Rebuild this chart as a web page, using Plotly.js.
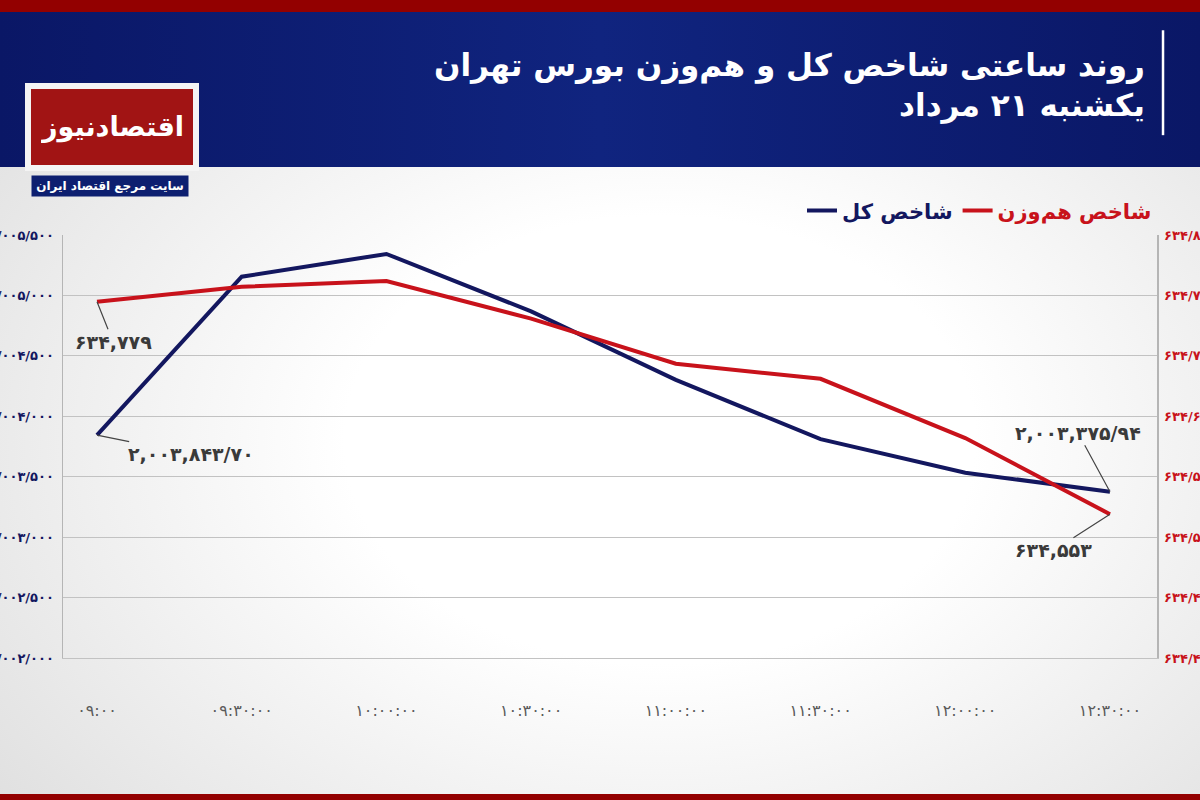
<!DOCTYPE html>
<html>
<head>
<meta charset="utf-8">
<script src="https://cdn.plot.ly/plotly-3.0.1.min.js"></script>
<style>
  html, body { margin: 0; padding: 0; }
  body {
    width: 1200px; height: 800px; overflow: hidden;
    background:
      linear-gradient(#930000, #930000) 0 0 / 100% 12px no-repeat,
      linear-gradient(90deg, #0a1766 0%, #10247f 50%, #0a1766 100%) 0 12px / 100% 155px no-repeat,
      linear-gradient(#930000, #930000) 0 794px / 100% 6px no-repeat,
      radial-gradient(ellipse 75% 80% at 55% 55%, #ffffff 35%, #dcdcdc 100%);
  }
  #chart { width: 1200px; height: 800px; }
</style>
</head>
<body>
<div id="chart"></div>
<script>
// ---- data ----
const times = ['۰۹:۰۰', '۰۹:۳۰:۰۰', '۱۰:۰۰:۰۰', '۱۰:۳۰:۰۰', '۱۱:۰۰:۰۰', '۱۱:۳۰:۰۰', '۱۲:۰۰:۰۰', '۱۲:۳۰:۰۰'];
const totalIndex = [2003843.70, 2005155, 2005343, 2004868, 2004301, 2003811, 2003533, 2003375.94];
const equalWeightIndex = [634779, 634795, 634801, 634761, 634713, 634697, 634634, 634553];

const leftTickVals = [2002000, 2002500, 2003000, 2003500, 2004000, 2004500, 2005000, 2005500];
const leftTickText = ['۲/۰۰۲/۰۰۰', '۲/۰۰۲/۵۰۰', '۲/۰۰۳/۰۰۰', '۲/۰۰۳/۵۰۰', '۲/۰۰۴/۰۰۰', '۲/۰۰۴/۵۰۰', '۲/۰۰۵/۰۰۰', '۲/۰۰۵/۵۰۰'];
const rightRange = [634400, 634850];
const rightTickText = ['۶۳۴/۴۰۰', '۶۳۴/۴۶۴', '۶۳۴/۵۲۹', '۶۳۴/۵۹۳', '۶۳۴/۶۵۷', '۶۳۴/۷۲۱', '۶۳۴/۷۸۶', '۶۳۴/۸۵۰'];

const seriesNames = ['شاخص کل', 'شاخص هم‌وزن'];
const titleLines = ['روند ساعتی شاخص کل و هم‌وزن بورس تهران', 'یکشنبه ۲۱ مرداد'];
const brandName = 'اقتصادنیوز';
const brandTagline = 'سایت مرجع اقتصاد ایران';

// ---- helpers ----
const FA = '۰۱۲۳۴۵۶۷۸۹';
const fa = s => String(s).replace(/\d/g, d => FA[d]);
const withCommas = n => String(n).replace(/\B(?=(\d{3})+(?!\d))/g, ',');
function fmtBlue(v) {
  const [i, d] = v.toFixed(2).split('.');
  return fa(withCommas(i) + '/' + d);
}
function fmtRed(v) { return fa(withCommas(Math.round(v))); }

const rightTickVals = rightTickText.map((_, i) => rightRange[0] + i * (rightRange[1] - rightRange[0]) / (rightTickText.length - 1));

const BLUE = '#13175f';
const RED = '#c8121b';
const FONT = 'DejaVu Sans, sans-serif';
const last = times.length - 1;

const traces = [
  {
    x: times, y: totalIndex, type: 'scatter', mode: 'lines',
    name: '<span style="color:' + BLUE + '"><b>' + seriesNames[0] + '</b></span>',
    line: { color: BLUE, width: 4 }, yaxis: 'y'
  },
  {
    x: times, y: equalWeightIndex, type: 'scatter', mode: 'lines',
    name: '<span style="color:' + RED + '"><b>' + seriesNames[1] + '</b></span>',
    line: { color: RED, width: 4 }, yaxis: 'y2'
  }
];

const labelFont = { family: FONT, size: 19, color: '#3a3a3a' };
const arrowCommon = { showarrow: true, arrowhead: 0, arrowwidth: 1.2, arrowcolor: '#444', font: labelFont };

const annotations = [
  Object.assign({ x: times[0], y: equalWeightIndex[0], xref: 'x', yref: 'y2',
    text: '<b>' + fmtRed(equalWeightIndex[0]) + '</b>', ax: 16, ay: 40 }, arrowCommon),
  Object.assign({ x: times[0], y: totalIndex[0], xref: 'x', yref: 'y',
    text: '<b>' + fmtBlue(totalIndex[0]) + '</b>', ax: 94, ay: 19 }, arrowCommon),
  Object.assign({ x: times[last], y: totalIndex[last], xref: 'x', yref: 'y',
    text: '<b>' + fmtBlue(totalIndex[last]) + '</b>', ax: -32, ay: -59 }, arrowCommon),
  Object.assign({ x: times[last], y: equalWeightIndex[last], xref: 'x', yref: 'y2',
    text: '<b>' + fmtRed(equalWeightIndex[last]) + '</b>', ax: -56, ay: 36 }, arrowCommon),
  // brand logo
  { xref: 'paper', yref: 'paper', x: 0.0448, y: 1.255, xanchor: 'center', yanchor: 'middle',
    text: '<b>' + brandName + '</b>', showarrow: false,
    font: { family: FONT, size: 27, color: '#ffffff' },
    bgcolor: '#a11414', bordercolor: '#f4f4f4', borderwidth: 6, borderpad: 10,
    width: 142, height: 56 },
  { xref: 'paper', yref: 'paper', x: 0.043, y: 1.1157, xanchor: 'center', yanchor: 'middle',
    text: '<b>' + brandTagline + '</b>', showarrow: false,
    font: { family: FONT, size: 12, color: '#ffffff' },
    bgcolor: '#0d1f70', borderpad: 3, width: 150 }
];

const layout = {
  width: 1200, height: 800,
  paper_bgcolor: 'rgba(0,0,0,0)', plot_bgcolor: 'rgba(0,0,0,0)',
  margin: { l: 63, r: 43, t: 235, b: 142, pad: 0 },
  font: { family: FONT },
  title: {
    text: '<b>' + titleLines.join('<br>') + '</b>',
    font: { family: FONT, size: 31, color: '#ffffff' },
    x: 0.954, xanchor: 'right', xref: 'container',
    y: 0.905, yanchor: 'top', yref: 'container'
  },
  showlegend: true,
  legend: {
    orientation: 'h', x: 1, xanchor: 'right', y: 1.057, yanchor: 'middle',
    font: { family: FONT, size: 21 }, bgcolor: 'rgba(0,0,0,0)', itemwidth: 30, traceorder: 'normal'
  },
  xaxis: {
    type: 'category', range: [-0.235, 7.325],
    showgrid: false, zeroline: false, showline: true, linecolor: '#c2c2c2', linewidth: 1, ticks: '',
    tickfont: { family: FONT, size: 16, color: '#5a5a5a' },
    ticklabelstandoff: 38, fixedrange: true
  },
  yaxis: {
    range: [2002000, 2005500], tickmode: 'array', tickvals: leftTickVals, ticktext: leftTickText,
    showgrid: true, gridcolor: '#c2c2c2', gridwidth: 1, zeroline: false,
    showline: true, linecolor: '#b5b5b5', linewidth: 1.5, ticks: '',
    tickfont: { family: FONT, size: 13, color: BLUE, weight: 'bold' }, ticklabelstandoff: 5
  },
  yaxis2: {
    overlaying: 'y', side: 'right', range: rightRange,
    tickmode: 'array', tickvals: rightTickVals, ticktext: rightTickText,
    showgrid: false, zeroline: false, showline: true, linecolor: '#b5b5b5', linewidth: 1.5, ticks: '',
    tickfont: { family: FONT, size: 13, color: RED, weight: 'bold' }, ticklabelstandoff: 3
  },
  shapes: [
    { type: 'line', xref: 'paper', yref: 'paper', x0: 1.0055, x1: 1.0055, y0: 1.236, y1: 1.484,
      line: { color: '#ffffff', width: 2.5 } }
  ],
  annotations: annotations
};

Plotly.newPlot('chart', traces, layout, { displayModeBar: false, staticPlot: true });
</script>
</body>
</html>
